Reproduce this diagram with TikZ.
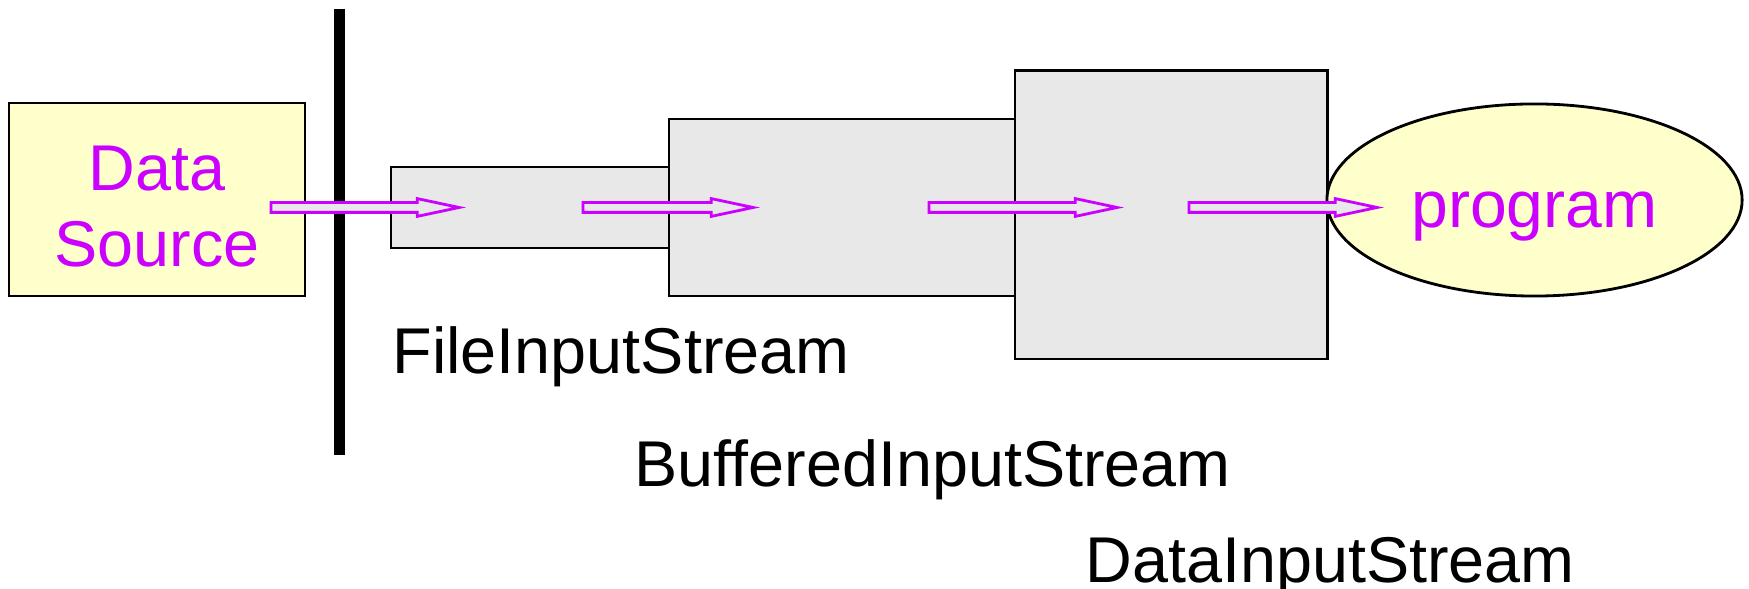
\documentclass[tikz,border=0pt]{standalone}
\usepackage{fontspec}
\setmainfont{Liberation Sans}
\usetikzlibrary{shapes.geometric,shapes.arrows}

\definecolor{violet}{RGB}{204,0,255}
\definecolor{paleyellow}{RGB}{255,255,204}
\definecolor{boxgray}{RGB}{232,232,232}

\begin{document}
\begin{tikzpicture}[x=0.01cm,y=-0.01cm,
        stream/.style={draw,thick,fill=boxgray,inner sep=0pt},
        flow/.style={single arrow,draw=violet,thick,fill=boxgray,inner xsep=0pt,
            inner ysep=0.035cm,single arrow head extend=0.04cm,
            single arrow tip angle=24,outer sep=0pt,anchor=tail},
        big/.style={font=\fontsize{18.4}{21.6}\selectfont,inner sep=0pt}]
        \useasboundingbox (0,0) rectangle (1749,589);

        % source and the wall
        \node[draw,thick,fill=paleyellow,minimum width=2.96cm,minimum height=1.93cm] (src) at (157,199.5) {};
        \node[big,text=violet,align=center] (srclbl) at ([yshift=-0.07cm]src.center) {Data\\Source};
        \draw[line width=0.11cm] (339.5,9) -- (339.5,455);

        % the chain of streams
        \node[stream,minimum width=2.78cm,minimum height=0.81cm] (fis) at (530,207.5)  {};
        \node[stream,minimum width=3.46cm,minimum height=1.77cm] (bis) at (842,207.5)  {};
        \node[stream,minimum width=3.12cm,minimum height=2.88cm] (dis) at (1171,215)   {};
        \node[draw,thick,ellipse,fill=paleyellow,minimum width=4.15cm,minimum height=1.92cm] (prog) at (1534.5,200) {};
        \node[big,font=\fontsize{18.8}{22}\selectfont,text=violet] (proglbl) at ([yshift=-0.17cm]prog.center) {program};

        % data moving through
        \node[flow,minimum height=1.88cm] (f1) at (271,207.5)  {};
        \node[flow,minimum height=1.70cm] (f2) at (583,207.5)  {};
        \node[flow,minimum height=1.88cm] (f3) at (929,207.5)  {};
        \node[flow,minimum height=1.88cm] (f4) at (1189,207.5) {};

        \node[big,anchor=base west] (lfis) at (392,374)  {FileInputStream};
        \node[big,anchor=base west] (lbis) at (634,487)  {BufferedInputStream};
        \node[big,anchor=base west] (ldis) at (1085,583) {DataInputStream};
    \end{tikzpicture}
\end{document}
